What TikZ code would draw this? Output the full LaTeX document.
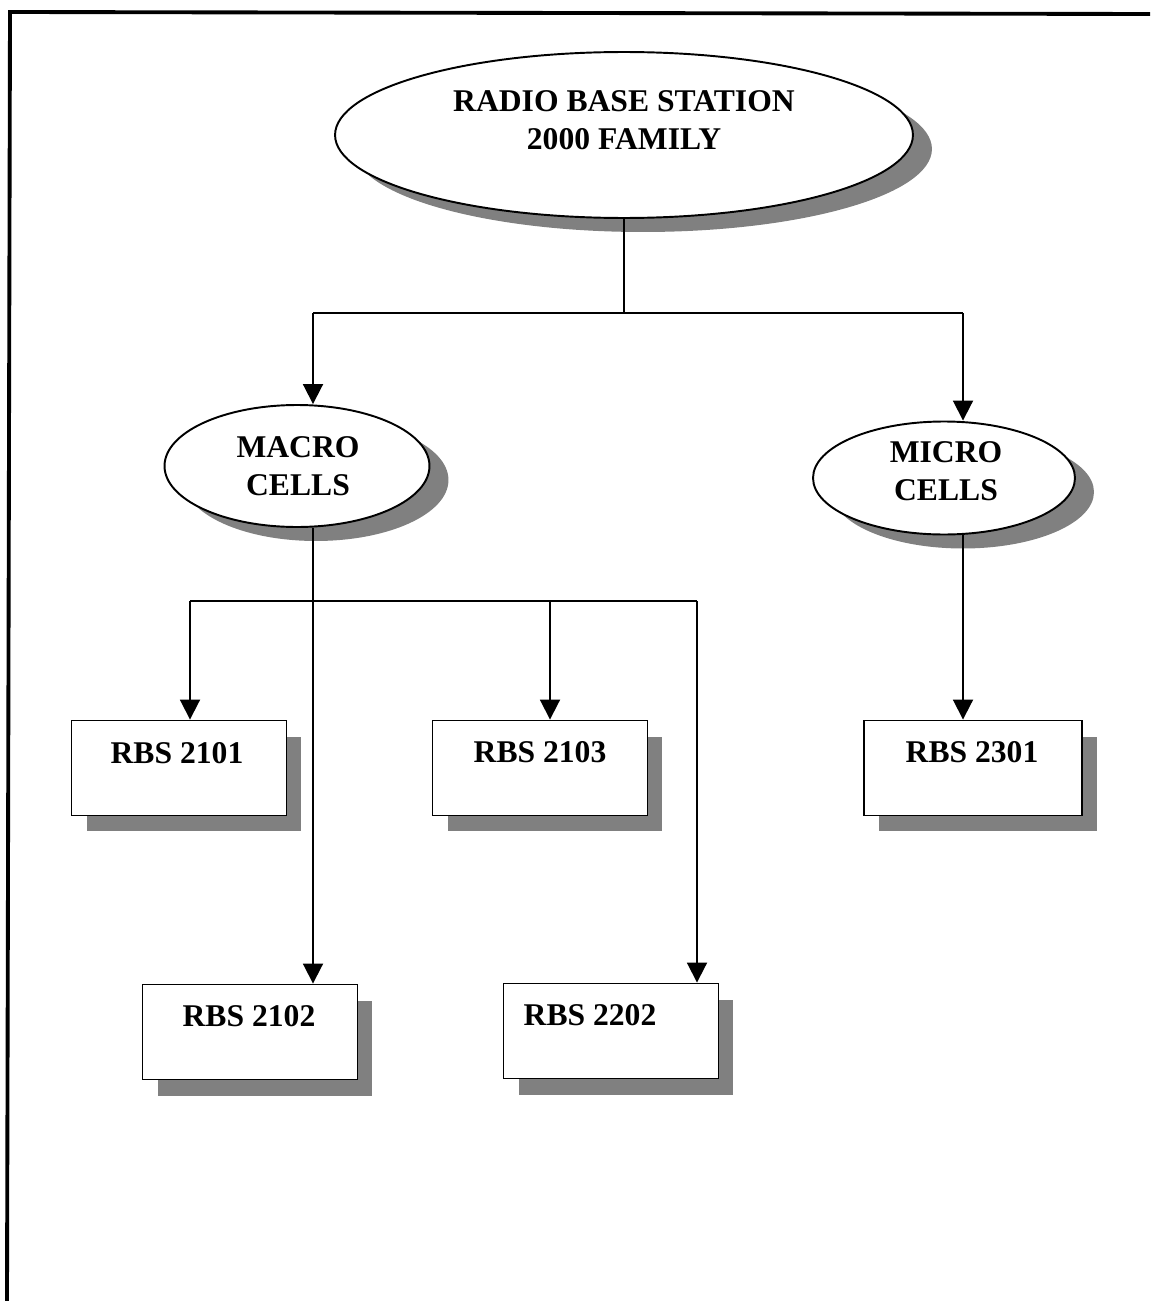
\documentclass[tikz,border=0pt]{standalone}
\usepackage{fontspec}
\setmainfont{Liberation Serif}
\usetikzlibrary{arrows.meta,shapes.geometric,shadows}
\tikzset{%
  dropped/.style 2 args = {%
    drop shadow = {%
      shadow xshift = #1,
      shadow yshift = #2,
      fill = black!50,
      opacity = 1},
    fill = white,
    draw = black,
    line width = 1.1pt}}

\begin{document}
\begin{tikzpicture}[x=0.02cm, y=-0.02cm,
familynode/.style={ellipse, dropped={.38cm}{-.28cm}, inner sep=0pt},
rbsnode/.style={rectangle, dropped={.3cm}{-.32cm}, inner sep=0pt, minimum width=4.3cm, minimum height=1.9cm},
txt/.style={font=\bfseries\fontsize{18}{21.5}\selectfont, align=center, inner sep=0pt},
link/.style={line width=1.1pt},
arrow/.style={link, -{Triangle[length=0.4cm,width=0.4cm]}}
]

\useasboundingbox (0,0) rectangle (1150,1301);

% frame
\draw[line width=2.2pt] (7,1301) -- (10,12) -- (1150,14);

% family and cell types
\node[familynode, minimum width=11.56cm, minimum height=3.32cm] (family) at (624,135) {};
\node[txt] (family_txt) at (624,120) {RADIO BASE STATION\\2000 FAMILY};

\node[familynode, minimum width=5.3cm, minimum height=2.44cm] (macro) at (297,466) {};
\node[txt] (macro_txt) at (298,466) {MACRO\\CELLS};

\node[familynode, minimum width=5.24cm, minimum height=2.26cm] (micro) at (944,478) {};
\node[txt] (micro_txt) at (946,471) {MICRO\\CELLS};

% base stations
\node[rbsnode] (rbs2101) at (179,768) {};
\node[txt]     (rbs2101_txt) at (177,753) {RBS 2101};

\node[rbsnode] (rbs2103) at (540,768) {};
\node[txt]     (rbs2103_txt) at (540,752) {RBS 2103};

\node[rbsnode, minimum width=4.36cm] (rbs2301) at (973,768) {};
\node[txt]     (rbs2301_txt) at (972,752) {RBS 2301};

\node[rbsnode] (rbs2102) at (250,1032) {};
\node[txt]     (rbs2102_txt) at (249,1016) {RBS 2102};

\node[rbsnode] (rbs2202) at (611,1031) {};
\node[txt]     (rbs2202_txt) at (590,1015) {RBS 2202};

% junctions
\coordinate (top)   at (624,313);
\coordinate (top_l) at (313,313);
\coordinate (top_r) at (963,313);
\coordinate (mid_l) at (190,601);
\coordinate (mid_c) at (550,601);
\coordinate (mid_r) at (697,601);

\draw[link] (family.south) -- (top);
\draw[link] (top_l) -- (top_r);
\draw[arrow] (top_l) -- (top_l |- macro.north);
\draw[arrow] (top_r) -- (top_r |- micro.north);

\draw[link] (mid_l) -- (mid_r);
\draw[arrow] (mid_l) -- (mid_l |- rbs2101.north);
\draw[arrow] (mid_c) -- (mid_c |- rbs2103.north);
\draw[arrow] (mid_r) -- (mid_r |- rbs2202.north);
\draw[arrow] (top_l |- macro.south) -- (top_l |- rbs2102.north);

\draw[arrow] (top_r |- micro.south) -- (top_r |- rbs2301.north);

\end{tikzpicture}
\end{document}
